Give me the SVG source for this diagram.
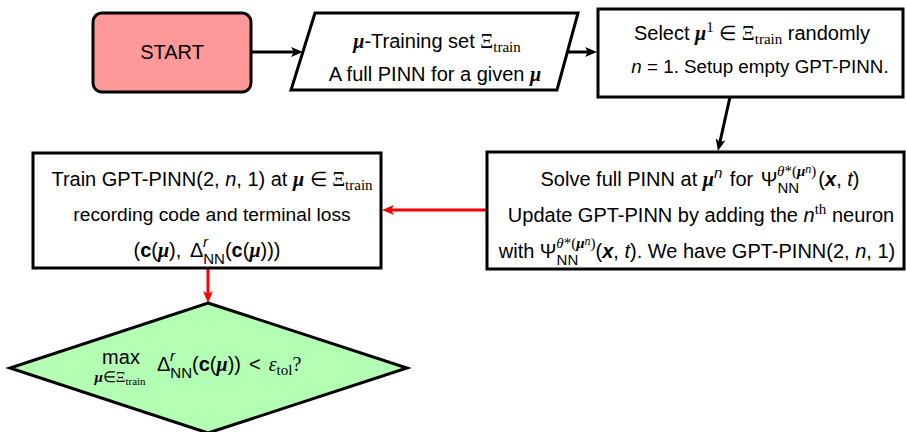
<svg xmlns="http://www.w3.org/2000/svg" width="906" height="432" viewBox="0 0 906 432">
<style>
text{font-family:"Liberation Sans",Arial,sans-serif;font-size:20px;fill:#000}
.shape{stroke:#000;stroke-width:3;fill:#fff}
.mb{font-family:"Liberation Serif","Times New Roman",serif;font-weight:bold;font-style:italic}
.mi{font-style:italic}
.bi{font-weight:bold;font-style:italic}
.bf{font-weight:bold}
.rm{font-family:"Liberation Serif","Times New Roman",serif}
.sm{font-family:"Liberation Serif","Times New Roman",serif;font-size:15px}
.ss{font-size:15px}
.conn{fill:none;stroke-width:3}
</style>
<defs>
<marker id="ab" markerUnits="userSpaceOnUse" viewBox="0 0 12 10" markerWidth="12" markerHeight="10" refX="4" refY="5" orient="auto"><path d="M0,0 L12,5 L0,10 L3,5 z" fill="#000"/></marker>
<marker id="ar" markerUnits="userSpaceOnUse" viewBox="0 0 12 10" markerWidth="12" markerHeight="10" refX="4" refY="5" orient="auto"><path d="M0,0 L12,5 L0,10 L3,5 z" fill="#f00"/></marker>
</defs>
<g id="connectors">
<path class="conn" stroke="#000" d="M251,52 L295,52" marker-end="url(#ab)"/>
<path class="conn" stroke="#000" d="M567,52 L589,52" marker-end="url(#ab)"/>
<path class="conn" stroke="#000" d="M730,97 L719.7,143.2" marker-end="url(#ab)"/>
<path class="conn" stroke="#f00" d="M487,210 L390,210" marker-end="url(#ar)"/>
<path class="conn" stroke="#f00" d="M208,269 L208,295" marker-end="url(#ar)"/>
</g>
<g id="start">
<rect x="93" y="13" width="158" height="79" rx="9" class="shape" style="fill:#ff9999"/>
<text x="172" y="59" text-anchor="middle">START</text>
</g>
<g id="training-set">
<polygon points="315,13 578,13 557,90 291,90" class="shape"/>
<text x="437" y="48" text-anchor="middle"><tspan class="mb">μ</tspan>-Training set <tspan class="rm">Ξ</tspan><tspan class="sm" dy="4">train</tspan></text>
<text x="435" y="81" text-anchor="middle">A full PINN for a given <tspan class="mb">μ</tspan></text>
</g>
<g id="select">
<rect x="598" y="9" width="305" height="88" class="shape"/>
<text x="752" y="40" text-anchor="middle">Select <tspan class="mb">μ</tspan><tspan class="sm" dy="-8">1</tspan><tspan dy="8"> ∈ </tspan><tspan class="rm">Ξ</tspan><tspan class="sm" dy="4">train</tspan><tspan dy="-4"> randomly</tspan></text>
<text x="760" y="73" text-anchor="middle" style="font-size:18.8px"><tspan class="mi">n</tspan> = 1. Setup empty GPT-PINN.</text>
</g>
<g id="solve">
<rect x="487" y="152" width="417" height="117" class="shape"/>
<text x="700" y="186" text-anchor="middle">Solve full PINN at <tspan class="mb">μ</tspan><tspan class="ss mi" dy="-8">n</tspan><tspan dy="8" dx="2"> for </tspan><tspan dx="2">Ψ</tspan><tspan class="ss" dy="7">NN</tspan><tspan class="sm" dx="-22" dy="-17"><tspan font-style="italic">θ</tspan>*(<tspan class="mb">μ</tspan><tspan font-style="italic" font-size="12" dy="-3">n</tspan><tspan dy="3">)</tspan></tspan><tspan dy="10" dx="2">(</tspan><tspan class="bi">x</tspan>, <tspan class="mi">t</tspan>)</text>
<text x="701" y="222" text-anchor="middle">Update GPT-PINN by adding the <tspan class="mi">n</tspan><tspan class="sm" dy="-8">th</tspan><tspan dy="8"> neuron</tspan></text>
<text x="697" y="258" text-anchor="middle">with Ψ<tspan class="ss" dy="7">NN</tspan><tspan class="sm" dx="-22" dy="-17"><tspan font-style="italic">θ</tspan>*(<tspan class="mb">μ</tspan><tspan font-style="italic" font-size="12" dy="-3">n</tspan><tspan dy="3">)</tspan></tspan><tspan dy="10">(</tspan><tspan class="bi">x</tspan>, <tspan class="mi">t</tspan>).  We have GPT-PINN(2, <tspan class="mi">n</tspan>, 1)</text>
</g>
<g id="train">
<rect x="33" y="153" width="348" height="115" class="shape"/>
<text x="212" y="186" text-anchor="middle">Train GPT-PINN(2, <tspan class="mi">n</tspan>, 1) at <tspan class="mb">μ</tspan> ∈ <tspan class="rm">Ξ</tspan><tspan class="sm" dy="4">train</tspan></text>
<text x="212" y="221" text-anchor="middle" style="font-size:19.2px">recording code and terminal loss</text>
<text x="207" y="257" text-anchor="middle">(<tspan class="bf">c</tspan>(<tspan class="mb">μ</tspan>),  <tspan dx="3">Δ</tspan><tspan class="ss" dy="7">NN</tspan><tspan class="ss mi" dx="-22" dy="-17">r</tspan><tspan dx="17" dy="10">(</tspan><tspan class="bf">c</tspan>(<tspan class="mb">μ</tspan>)))</text>
</g>
<g id="decision">
<polygon points="208,303 407,368 208,433 10,368" class="shape" style="fill:#b3ffb3"/>
<text x="121" y="364" text-anchor="middle">max</text>
<text x="120" y="382" text-anchor="middle" class="ss"><tspan class="mb">μ</tspan>∈<tspan class="rm">Ξ</tspan><tspan class="rm" font-size="11" dy="3">train</tspan></text>
<text x="157" y="371">Δ<tspan class="ss" dy="7">NN</tspan><tspan class="ss mi" dx="-22" dy="-17">r</tspan><tspan dx="17" dy="10">(</tspan><tspan class="bf">c</tspan>(<tspan class="mb">μ</tspan>))<tspan dx="8">&lt;</tspan><tspan class="rm mi" dx="8">ε</tspan><tspan class="sm" dy="4">tol</tspan><tspan class="rm" dy="-4">?</tspan></text>
</g>
</svg>
